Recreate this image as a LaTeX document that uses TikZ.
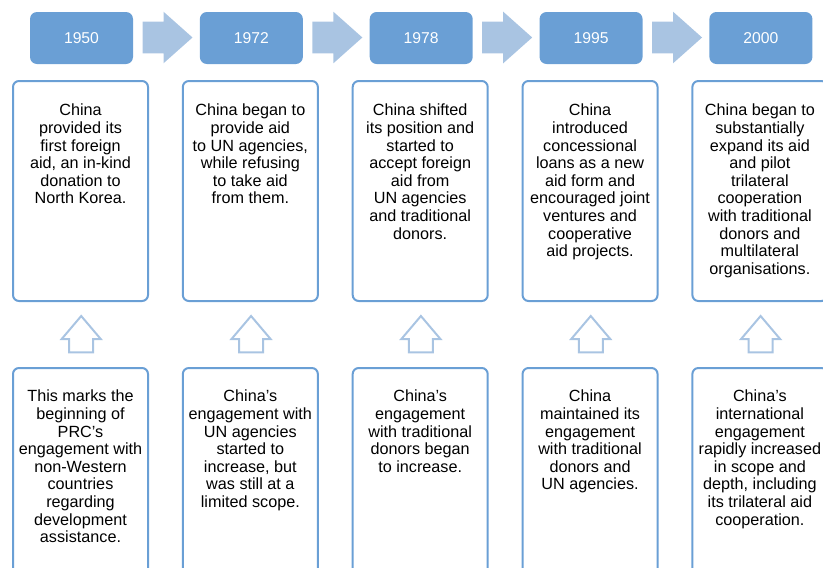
\documentclass[tikz,border=0pt]{standalone}
\usepackage{fontspec}
\setmainfont{Liberation Sans}
\usetikzlibrary{calc}
\definecolor{yearblue}{HTML}{6A9FD5}
\definecolor{arrowblue}{HTML}{A9C4E2}
\definecolor{boxblue}{HTML}{6A9FD5}
\tikzset{
  yearbox/.style={rectangle, rounded corners=7pt, fill=yearblue, text=white,
    minimum width=103pt, minimum height=52pt, inner sep=0pt,
    font=\fontsize{15.7}{17}\selectfont},
  textbox/.style={rectangle, rounded corners=6pt, draw=boxblue, line width=2pt,
    minimum width=135pt, minimum height=220pt, inner sep=0pt},
  bodytext/.style={anchor=north, align=center, inner sep=0pt,
    font=\fontsize{16.2}{17.6}\selectfont},
  rightarrow/.style={fill=arrowblue},
  uparrow/.style={draw=arrowblue, line width=2pt, line join=miter},
}
\begin{document}
\begin{tikzpicture}[x=1pt,y=-1pt]
\useasboundingbox (0,0) rectangle (823,568);
\clip (0,0) rectangle (823,568);
\foreach \i/\yr in {0/1950,1/1972,2/1978,3/1995,4/2000} {
  \pgfmathsetmacro\cx{80.5+169.85*\i}
  \node[yearbox] (y\i) at (\cx+1,38) {\yr};
  \node[textbox] (t\i) at (\cx,191) {};
  \node[textbox, minimum height=232pt] (b\i) at (\cx,484) {};
  \draw[uparrow] (\cx+0.7,316) -- ++(19.5,23) -- ++(-7.5,0) -- ++(0,13.3)
     -- ++(-24,0) -- ++(0,-13.3) -- ++(-7.5,0) -- cycle;
}
\foreach \i in {0,1,2,3} {
  \fill[rightarrow] ($(y\i.east)+(9.3,-16.3)$) coordinate (a\i)
     -- ++(21,0) -- ++(0,-10) -- ++(29,25.8) -- ++(-29,25.8) -- ++(0,-10)
     -- ++(-21,0) -- cycle;
}
% top texts
\node[bodytext] (tt0) at ($(t0.north)+(0,24)$) {China\\provided its\\first foreign\\aid, an in-kind\\donation to\\North Korea.};
\node[bodytext] (tt1) at ($(t1.north)+(0,24)$) {China began to\\provide aid\\to UN agencies,\\while refusing\\to take aid\\from them.};
\node[bodytext] (tt2) at ($(t2.north)+(0,24)$) {China shifted\\its position and\\started to\\accept foreign\\aid from\\UN agencies\\and traditional\\donors.};
\node[bodytext] (tt3) at ($(t3.north)+(0,24)$) {China\\introduced\\concessional\\loans as a new\\aid form and\\encouraged joint\\ventures and\\cooperative\\aid projects.};
\node[bodytext] (tt4) at ($(t4.north)+(0,24)$) {China began to\\substantially\\expand its aid\\and pilot\\trilateral\\cooperation\\with traditional\\donors and\\multilateral\\organisations.};
% bottom texts
\node[bodytext] (bt0) at ($(b0.north)+(0,23)$) {This marks the\\beginning of\\PRC’s\\engagement with\\non-Western\\countries\\regarding\\development\\assistance.};
\node[bodytext] (bt1) at ($(b1.north)+(0,23)$) {China’s\\engagement with\\UN agencies\\started to\\increase, but\\was still at a\\limited scope.};
\node[bodytext] (bt2) at ($(b2.north)+(0,23)$) {China’s\\engagement\\with traditional\\donors began\\to increase.};
\node[bodytext] (bt3) at ($(b3.north)+(0,23)$) {China\\maintained its\\engagement\\with traditional\\donors and\\UN agencies.};
\node[bodytext] (bt4) at ($(b4.north)+(0,23)$) {China’s\\international\\engagement\\rapidly increased\\in scope and\\depth, including\\its trilateral aid\\cooperation.};
\end{tikzpicture}
\end{document}
